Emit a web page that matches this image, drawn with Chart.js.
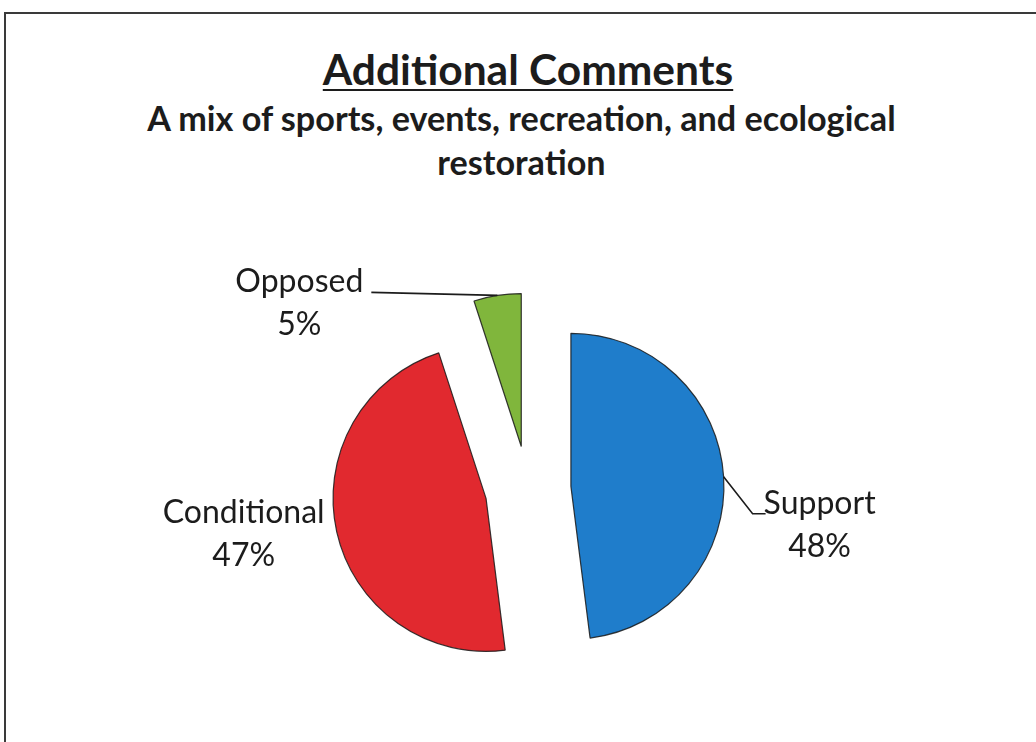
<!DOCTYPE html>
<html>
<head>
<meta charset="utf-8">
<script src="https://cdn.jsdelivr.net/npm/chart.js@4"></script>
<style>
  html, body { margin: 0; padding: 0; background: #fff; }
  #page { position: relative; width: 1036px; height: 742px; overflow: hidden; font-family: Lato, "Open Sans", sans-serif; color: #1c1c1c; }
  #frame { position: absolute; left: 4px; top: 12px; right: -4px; bottom: -4px; border-top: 2px solid #3a3a3a; border-left: 2px solid #3a3a3a; }
  #title { position: absolute; left: 0; width: 1056px; top: 43px; text-align: center; font-weight: 700; font-size: 42.5px; text-decoration: underline; text-decoration-thickness: 2px; text-underline-offset: 4px; }
  #subtitle { position: absolute; left: 0; width: 1043px; top: 96px; text-align: center; font-weight: 700; font-size: 34.2px; line-height: 44px; }
  canvas { position: absolute; left: 0; top: 0; }
</style>
</head>
<body>
<div id="page">
  <div id="frame"></div>
  <div id="title">Additional Comments</div>
  <div id="subtitle">A mix of sports, events, recreation, and ecological<br>restoration</div>
  <canvas id="pie" width="1036" height="742"></canvas>
</div>
<script>
const categories = ['Support', 'Conditional', 'Opposed'];
const percents = [48, 47, 5];

const sliceColors = ['#1f7dcb', '#e1292f', '#80b63c'];
const explode = 43;
// label placement relative to each slice's outer mid point
const labelLayout = [
  { dx: 96, dy: 37, leader: true, hook: 13, gap: -2 },
  { dx: -93, dy: -9, leader: false },
  { dx: -198, dy: -3, leader: true, hook: 0, gap: 8 }
];

const explodePlugin = {
  id: 'explode',
  afterDatasetUpdate(chart, args) {
    args.meta.data.forEach(arc => {
      const mid = (arc.startAngle + arc.endAngle) / 2;
      arc.x += Math.cos(mid) * explode;
      arc.y += Math.sin(mid) * explode;
    });
  }
};

const labelPlugin = {
  id: 'sliceLabels',
  afterDatasetsDraw(chart) {
    const ctx = chart.ctx;
    const arcs = chart.getDatasetMeta(0).data;
    ctx.save();
    ctx.font = '32px Lato, "Open Sans", sans-serif';
    ctx.fillStyle = '#1c1c1c';
    ctx.textAlign = 'center';
    ctx.textBaseline = 'alphabetic';
    arcs.forEach((arc, i) => {
      const lay = labelLayout[i];
      const mid = (arc.startAngle + arc.endAngle) / 2;
      const ox = arc.x + Math.cos(mid) * arc.outerRadius;
      const oy = arc.y + Math.sin(mid) * arc.outerRadius;
      const tx = ox + lay.dx;
      const ty = oy + lay.dy;
      const name = categories[i];
      const pct = percents[i] + '%';
      ctx.fillText(name, tx, ty);
      ctx.fillText(pct, tx, ty + 43);
      if (lay.leader) {
        const half = ctx.measureText(name).width / 2;
        const side = ox > tx ? 1 : -1;
        const ex = tx + side * (half + lay.gap);
        ctx.beginPath();
        ctx.moveTo(ox, oy);
        ctx.lineTo(ex + side * lay.hook, ty);
        ctx.lineTo(ex, ty);
        ctx.lineWidth = 1.6;
        ctx.strokeStyle = '#1c1c1c';
        ctx.stroke();
      }
    });
    ctx.restore();
  }
};

new Chart(document.getElementById('pie'), {
  type: 'pie',
  data: {
    labels: categories,
    datasets: [{
      data: percents,
      backgroundColor: sliceColors,
      borderColor: 'rgba(25,25,25,0.85)',
      borderWidth: 1.2,
      clip: false
    }]
  },
  options: {
    responsive: false,
    animation: false,
    events: [],
    radius: 153,
    layout: { padding: { left: 20, right: 0, top: 236, bottom: 0 } },
    plugins: { legend: { display: false }, tooltip: { enabled: false } }
  },
  plugins: [explodePlugin, labelPlugin]
});
</script>
</body>
</html>
